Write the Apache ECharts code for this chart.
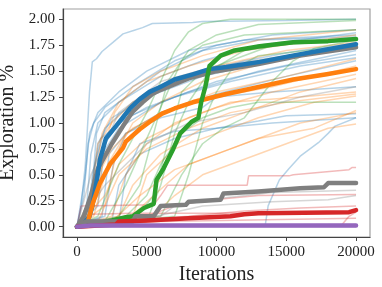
<!DOCTYPE html>
<html><head><meta charset="utf-8">
<script src="https://cdn.jsdelivr.net/npm/echarts@6/dist/echarts.min.js"></script>
<style>html,body{margin:0;padding:0;background:#fff}#c{width:382px;height:287px}</style>
</head><body><div id="c"></div>
<script>
const xTicks = [0, 5000, 10000, 15000, 20000];
const yTicks = [0, 0.25, 0.5, 0.75, 1.0, 1.25, 1.5, 1.75, 2.0];

const blueRuns = [
 [[0,0],[300,0.2],[600,0.6],[900,1.3],[1100,1.59],[1400,1.62],[1800,1.69],[2600,1.78],[3300,1.86],[4000,1.89],[4700,1.92],[5400,1.96],[8300,1.97],[9000,1.98],[15000,1.99],[20000,2.0]],
 [[0,0],[500,0.3],[800,0.8],[1200,1.0],[2000,1.15],[4000,1.35],[7000,1.6],[10000,1.75],[14000,1.85],[20000,1.9]],
 [[0,0],[700,0.2],[1000,0.7],[1500,1.0],[3000,1.2],[6000,1.45],[9000,1.6],[13000,1.75],[20000,1.87]],
 [[0,0],[900,0.1],[1300,0.6],[2000,0.95],[4000,1.2],[8000,1.45],[12000,1.6],[16000,1.7],[20000,1.77]],
 [[0,0],[1000,0.3],[1500,0.8],[2500,1.05],[5000,1.25],[9000,1.45],[14000,1.6],[20000,1.73]],
 [[0,0],[1200,0.2],[1800,0.7],[3000,0.95],[6000,1.2],[10000,1.4],[15000,1.55],[20000,1.66]],
 [[0,0],[600,0.5],[900,0.9],[1500,1.1],[3000,1.3],[5000,1.5],[8000,1.7],[12000,1.8],[20000,1.85]],
 [[0,0],[1500,0.2],[2000,0.8],[3000,1.0],[5000,1.15],[8000,1.3],[13000,1.5],[20000,1.7]],
 [[0,0],[2000,0.1],[2600,0.6],[3500,0.9],[6000,1.1],[10000,1.28],[15000,1.45],[20000,1.6]],
 [[0,0],[800,0.1],[1100,0.5],[1700,0.85],[3500,1.05],[7000,1.25],[11000,1.4],[16000,1.55],[20000,1.63]],
 [[0,0],[3000,0.05],[3500,0.5],[4500,0.8],[7000,0.92],[10000,0.95],[13000,1.02],[15000,1.07],[20000,1.09]],
 [[0,0],[13500,0.02],[13700,0.2],[14500,0.45],[15200,0.56],[16000,0.68],[17300,0.81],[18000,0.9],[18500,0.97],[20000,1.05]],
 [[0,0],[1000,0.2],[1400,0.9],[2000,1.1],[4000,1.3],[6000,1.5],[9000,1.7],[13000,1.8],[20000,1.83]],
 [[0,0],[1800,0.1],[2300,0.7],[3500,0.9],[6000,1.05],[9000,1.15],[10000,1.25],[14000,1.3],[20000,1.35]],
 [[0,0],[2500,0.05],[3000,0.4],[4500,0.7],[7000,0.85],[10000,0.95],[14000,1.0],[20000,1.05]]
];
const orangeRuns = [
 [[0,0],[1500,0.3],[2000,0.8],[2700,1.1],[4000,1.35],[6000,1.5],[9000,1.65],[13000,1.8],[20000,1.9]],
 [[0,0],[1000,0.2],[1800,0.9],[3000,1.2],[5000,1.4],[8000,1.55],[12000,1.7],[20000,1.85]],
 [[0,0],[2000,0.2],[2800,0.7],[4000,1.0],[6000,1.2],[9000,1.4],[14000,1.6],[20000,1.75]],
 [[0,0],[1200,0.1],[2200,0.6],[3500,0.9],[6000,1.1],[10000,1.3],[15000,1.45],[20000,1.62]],
 [[0,0],[2500,0.1],[3500,0.5],[5000,0.8],[7000,1.0],[10000,1.15],[14000,1.3],[20000,1.47]],
 [[0,0],[3000,0.1],[4000,0.4],[6000,0.7],[9000,0.95],[12000,1.1],[16000,1.3],[20000,1.43]],
 [[0,0],[1500,0.05],[3000,0.5],[5000,0.75],[8000,0.95],[11000,1.1],[15000,1.2],[20000,1.28]],
 [[0,0],[4000,0.1],[5000,0.5],[7000,0.75],[10000,0.9],[13000,1.05],[17000,1.2],[20000,1.26]],
 [[0,0],[3500,0.05],[5500,0.3],[8000,0.6],[11000,0.75],[13000,0.85],[17000,0.95],[20000,1.12]],
 [[0,0],[5000,0.05],[7000,0.3],[9000,0.5],[12000,0.65],[15000,0.8],[18000,0.95],[20000,0.99]],
 [[0,0],[1000,0.3],[1500,0.8],[2500,1.0],[4000,1.2],[7000,1.4],[10000,1.55],[15000,1.7],[20000,1.78]],
 [[0,0],[2500,0.05],[4500,0.3],[7000,0.55],[10000,0.7],[13000,0.85],[16000,1.0],[20000,1.1]],
 [[0,0],[800,0.1],[1500,0.5],[2500,0.75],[4000,0.95],[7000,1.15],[10000,1.25],[14000,1.35],[20000,1.55]],
 [[0,0],[2000,0.3],[3000,0.6],[5000,0.85],[8000,1.05],[11000,1.2],[16000,1.25],[20000,1.3]]
];
const greenRuns = [
 [[0,0],[1500,0.1],[3000,0.6],[5000,1.1],[6000,1.4],[7000,1.7],[8000,1.88],[9000,1.96],[11000,2.0],[20000,2.0]],
 [[0,0],[3000,0.1],[4500,0.4],[5500,0.9],[6500,1.4],[8000,1.7],[10000,1.85],[13000,1.95],[20000,1.99]],
 [[0,0],[4000,0.05],[5500,0.3],[6500,0.8],[7500,1.3],[9000,1.5],[11000,1.6],[14000,1.75],[20000,1.8]],
 [[0,0],[5000,0.05],[6000,0.4],[7000,0.9],[8000,1.2],[9500,1.5],[12000,1.7],[16000,1.78],[20000,1.82]],
 [[0,0],[3500,0.1],[5000,0.3],[6000,0.6],[7500,0.9],[9000,1.05],[11000,1.15],[13000,1.2],[20000,1.2]],
 [[0,0],[6000,0.1],[7500,0.5],[9000,0.8],[10500,0.95],[12000,1.05],[14000,1.4],[15500,1.6],[17000,1.72],[20000,1.8]],
 [[0,0],[2000,0.05],[3500,0.4],[4500,0.7],[5500,1.0],[6500,1.3],[7500,1.6],[9000,1.75],[12000,1.85],[20000,1.9]],
 [[0,0],[7000,0.1],[8000,0.5],[9000,1.0],[10000,1.3],[11000,1.5],[13000,1.65],[20000,1.75]]
];
const redRuns = [
 [[0,0],[300,0.2],[5500,0.21],[6000,0.3],[6500,0.4],[12200,0.4],[12300,0.49],[15200,0.49],[15500,0.5],[19500,0.55],[19700,0.57],[20000,0.57]],
 [[0,0],[2500,0.05],[5000,0.1],[7000,0.2],[9000,0.25],[13000,0.3],[20000,0.31]],
 [[0,0],[3000,0.05],[8000,0.1],[12000,0.15],[16000,0.18],[20000,0.2]],
 [[0,0],[19000,0.02],[19500,0.1],[20000,0.14]],
 [[0,0],[1000,0.12],[4000,0.13],[10000,0.13],[20000,0.14]],
 [[0,0],[6000,0.05],[20000,0.08]]
];
const grayRuns = [
 [[0,0],[500,0.05],[6000,0.1],[7000,0.2],[10000,0.27],[14000,0.33],[20000,0.35]],
 [[0,0],[1000,0.07],[5000,0.08],[9000,0.2],[14000,0.24],[18000,0.26],[20000,0.3]],
 [[0,0],[2000,0.4],[5000,0.8],[8000,1.0],[12000,1.1],[16000,1.25],[20000,1.35]],
 [[0,0],[1000,0.5],[3000,1.1],[6000,1.4],[10000,1.55],[15000,1.65],[20000,1.72]]
];
const purpleRuns = [
 [[0,0],[20000,0.0]],
 [[0,0],[2000,0.01],[20000,0.02]]
];

const blueMean = [[0,0],[500,0.03],[900,0.1],[1100,0.2],[1430,0.45],[1650,0.65],[2070,0.85],[2800,0.97],[3800,1.14],[4500,1.23],[5200,1.3],[6000,1.35],[7000,1.42],[8300,1.47],[9500,1.52],[10700,1.54],[13100,1.59],[15450,1.65],[17900,1.71],[20000,1.76]];
const orangeMean = [[0,0],[700,0.01],[1150,0.23],[1650,0.42],[2360,0.6],[3300,0.76],[3500,0.82],[4500,0.94],[5200,1.01],[6100,1.09],[7000,1.14],[8300,1.2],[10700,1.28],[13100,1.35],[15500,1.42],[17900,1.47],[20000,1.52]];
const greenMean = [[0,0],[1000,0.02],[2500,0.06],[3500,0.09],[4000,0.1],[4800,0.18],[5500,0.22],[5700,0.45],[6200,0.56],[6900,0.75],[7400,0.9],[8200,1.01],[8700,1.05],[8900,1.2],[9200,1.35],[9500,1.55],[10300,1.65],[11300,1.7],[13100,1.74],[15500,1.78],[18000,1.79],[20000,1.81]];
const grayUpperMean = [[0,0],[500,0.1],[1000,0.3],[1500,0.56],[2500,0.8],[3300,0.97],[4000,1.11],[4700,1.2],[5400,1.28],[6000,1.32],[8000,1.43],[10000,1.5],[13000,1.57],[16000,1.65],[20000,1.73]];
const grayMean = [[0,0],[300,0.03],[700,0.05],[4000,0.05],[4200,0.1],[5500,0.1],[5800,0.16],[6000,0.2],[7800,0.21],[8000,0.24],[10300,0.26],[10500,0.32],[13000,0.34],[16000,0.37],[17700,0.38],[18000,0.42],[20000,0.42]];
const redMean = [[0,0],[2800,0.02],[3000,0.05],[5000,0.06],[8000,0.08],[11000,0.1],[12000,0.12],[13000,0.13],[19500,0.14],[20000,0.16]];
const purpleMean = [[0,0],[1000,0.01],[20000,0.01]];

const C = {blue:'#1f77b4', orange:'#ff7f0e', green:'#2ca02c', red:'#d62728', purple:'#9467bd', gray:'#7f7f7f'};
const series = [];
function faint(runs, color){
  runs.forEach(d => series.push({type:'line', data:d, showSymbol:false, silent:true,
    lineStyle:{color:color, width:1.5, opacity:0.32}, z:2}));
}
function mean(d, color){
  series.push({type:'line', data:d, showSymbol:false, silent:true,
    lineStyle:{color:color, width:4.5, opacity:1, cap:'round', join:'round'}, z:3});
}
faint(blueRuns, C.blue); faint(orangeRuns, C.orange); faint(greenRuns, C.green);
faint(redRuns, C.red); faint(grayRuns, C.gray); faint(purpleRuns, C.purple);
mean(grayUpperMean, C.gray); mean(blueMean, C.blue); mean(orangeMean, C.orange);
mean(greenMean, C.green); mean(grayMean, C.gray); mean(redMean, C.red); mean(purpleMean, C.purple);

const font = 'Liberation Serif';
const chart = echarts.init(document.getElementById('c'), null, {renderer:'canvas'});
chart.setOption({
  animation:false,
  grid:{left:63, top:9, right:12, bottom:50, containLabel:false, outerBoundsMode:'none',
    show:true, borderColor:'#a0a0a0', borderWidth:1.2, backgroundColor:'transparent'},
  xAxis:{type:'value', min:-1000, max:21000,
    name:'Iterations', nameLocation:'middle', nameGap:27,
    nameTextStyle:{fontFamily:font, fontSize:20, color:'#222'},
    axisLine:{show:true, onZero:false, lineStyle:{color:'#444', width:1.2}},
    axisTick:{show:true, inside:false, length:4, customValues:xTicks, lineStyle:{color:'#444'}},
    axisLabel:{customValues:xTicks, fontFamily:font, fontSize:15, color:'#222', margin:8, formatter:v=>String(v)},
    splitLine:{show:false}},
  yAxis:{type:'value', min:-0.1, max:2.1,
    name:'Exploration %', nameLocation:'middle', nameGap:41, nameRotate:90,
    nameTextStyle:{fontFamily:font, fontSize:20, color:'#222'},
    axisLine:{show:true, onZero:false, lineStyle:{color:'#444', width:1.2}},
    axisTick:{show:true, inside:false, length:4, customValues:yTicks, lineStyle:{color:'#444'}},
    axisLabel:{customValues:yTicks, fontFamily:font, fontSize:15, color:'#222', margin:8, formatter:v=>v.toFixed(2)},
    splitLine:{show:false}},
  series:series
});
</script></body></html>
